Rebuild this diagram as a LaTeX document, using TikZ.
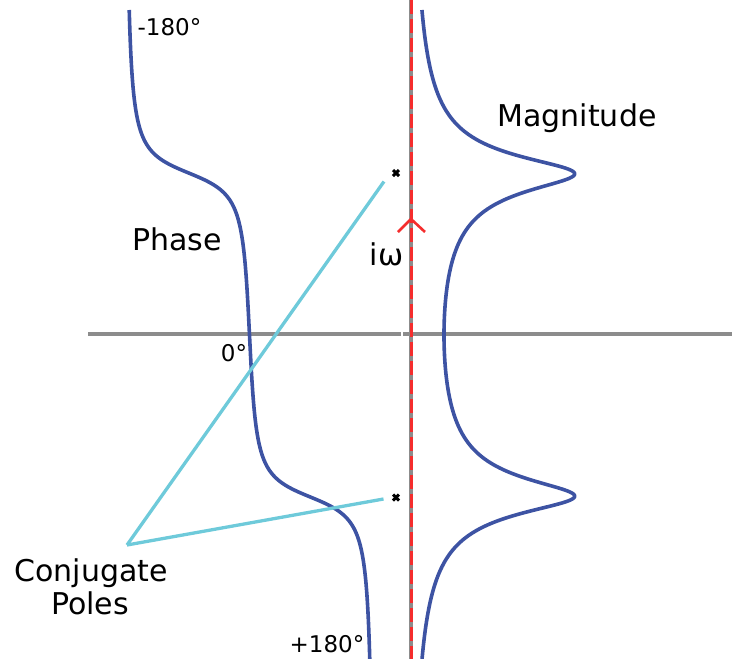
\documentclass[tikz,border=0pt]{standalone}
\usepackage{fontspec}
\setmainfont{DejaVu Sans}
\definecolor{curveblue}{RGB}{61,83,163}
\definecolor{polecyan}{RGB}{110,202,218}
\definecolor{axisgrey}{RGB}{140,140,140}
\definecolor{axisred}{RGB}{245,45,45}
\tikzset{
  axisline/.style={draw=axisgrey, line width=3.4pt},
  redaxis/.style={draw=axisred, line width=3pt, dash pattern=on 14pt off 5pt},
  curveline/.style={draw=curveblue, line width=3.6pt, line join=round},
  poleline/.style={draw=polecyan, line width=3.3pt},
  polemark/.style={draw=black, line width=3pt},
  biglabel/.style={inner sep=0pt, anchor=base, font=\fontsize{30}{33}\selectfont},
  smalllabel/.style={inner sep=0pt, anchor=base, font=\fontsize{23}{26}\selectfont},
}
\begin{document}
\begin{tikzpicture}[x=1pt,y=-1pt]
\useasboundingbox (0,0) rectangle (732,659);
% axes
\coordinate (hl) at (88,334);
\coordinate (hm1) at (401,334);
\coordinate (hm2) at (403,334);
\coordinate (hr) at (732,334);
\coordinate (vt) at (411,0);
\coordinate (vb) at (411,659);
\draw[axisline] (hl) -- (hm1);
\draw[axisline] (hm2) -- (hr);
\draw[axisline] (vt) -- (vb);
\draw[redaxis] (vt) -- (vb);
% arrow chevron on imaginary axis
\coordinate (aL) at (398,232);
\coordinate (aT) at (411,219);
\coordinate (aR) at (425,232);
\draw[draw=axisred, line width=2.6pt, line join=miter] (aL) -- (aT) -- (aR);
% phase curve
\draw[curveline] plot[variable=\t, domain=10:659, samples=650]
  ({249.5+0.6981*(atan((\t-497)/16.5)+atan((\t-173)/16.5))},{\t});
% magnitude curve
\draw[curveline] plot[variable=\t, domain=10:659, samples=650]
  ({411+87.5/(sqrt(0.027225+((\t-497)/100)*((\t-497)/100))*sqrt(0.027225+((\t-173)/100)*((\t-173)/100)))},{\t});
% poles
\coordinate (cp) at (127,545);
\coordinate (e1) at (384,181.5);
\coordinate (e2) at (383.5,499);
\draw[poleline] (cp) -- (e1);
\draw[poleline] (cp) -- (e2);
\coordinate (p1) at (396,173);
\coordinate (p2) at (396,497.5);
\draw[polemark] ([shift={(-3,-3)}]p1) -- ([shift={(3,3)}]p1);
\draw[polemark] ([shift={(-3,3)}]p1) -- ([shift={(3,-3)}]p1);
\draw[polemark] ([shift={(-3,-3)}]p2) -- ([shift={(3,3)}]p2);
\draw[polemark] ([shift={(-3,3)}]p2) -- ([shift={(3,-3)}]p2);
% labels
\node[smalllabel] (m180) at (169.5,35) {-180°};
\node[biglabel] (mag) at (577,126) {Magnitude};
\node[biglabel] (phase) at (177,250) {Phase};
\node[biglabel] (iw) at (386.5,265) {iω};
\node[smalllabel] (zero) at (234,361) {0°};
\node[biglabel] (conj) at (91,581) {Conjugate};
\node[biglabel] (poles) at (90,614) {Poles};
\node[smalllabel] (p180) at (327,652) {+180°};
\end{tikzpicture}
\end{document}
